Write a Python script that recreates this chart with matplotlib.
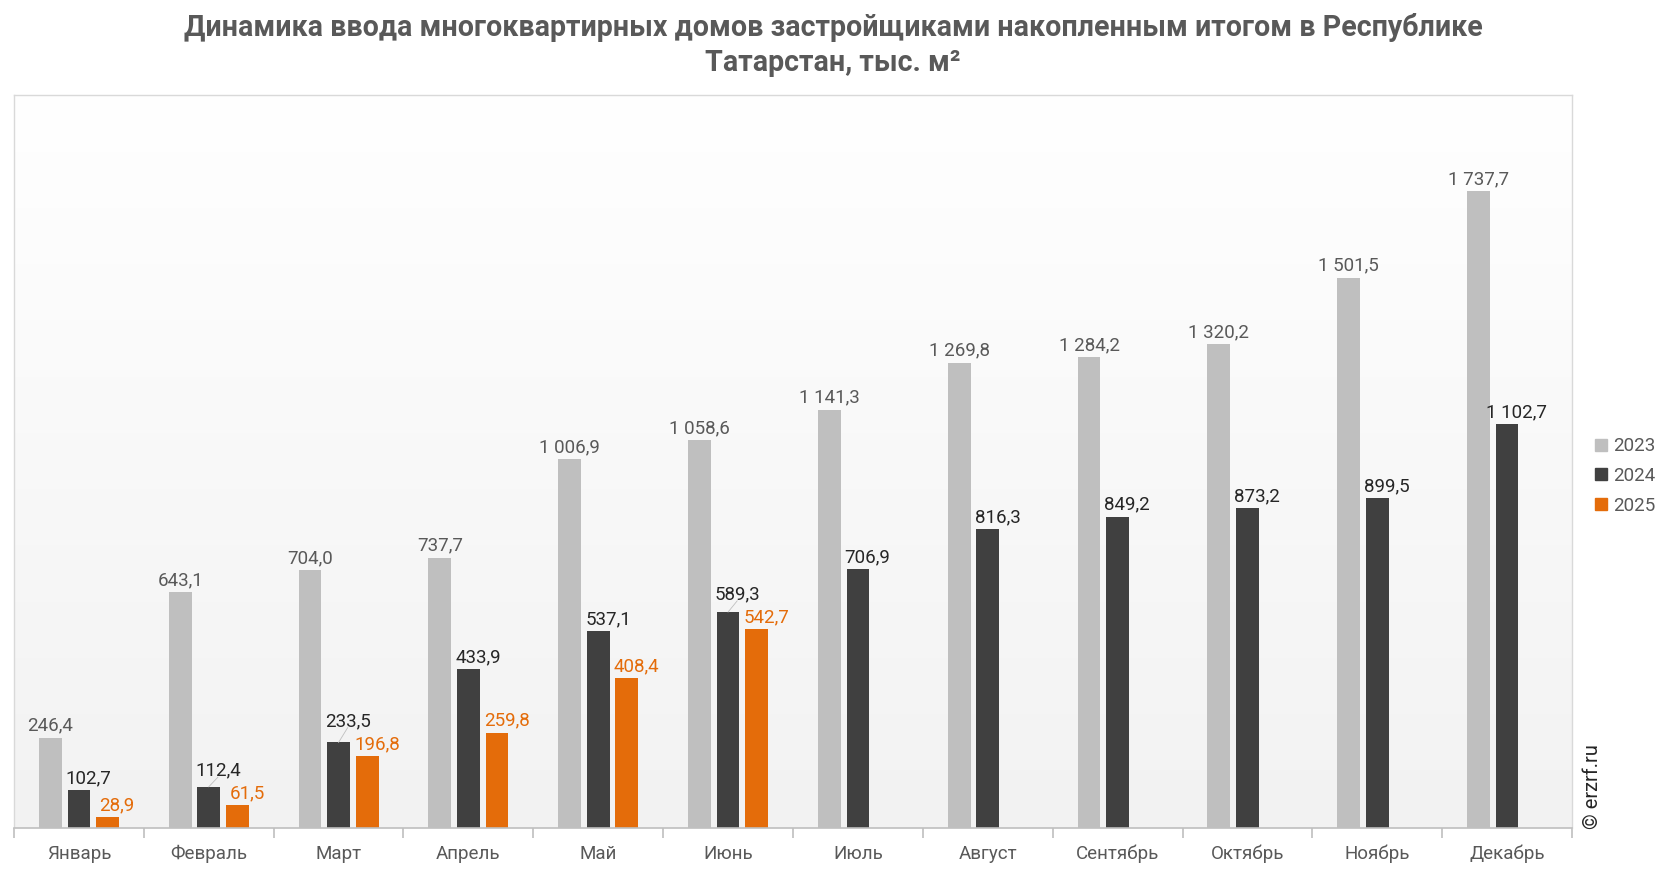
import numpy as np
import matplotlib
matplotlib.use("Agg")
import matplotlib.pyplot as plt
from matplotlib.patches import Patch

plt.rcParams["font.family"] = ["Roboto", "DejaVu Sans"]

months = ["Январь", "Февраль", "Март", "Апрель", "Май", "Июнь",
          "Июль", "Август", "Сентябрь", "Октябрь", "Ноябрь", "Декабрь"]
v2023 = [246.4, 643.1, 704.0, 737.7, 1006.9, 1058.6,
         1141.3, 1269.8, 1284.2, 1320.2, 1501.5, 1737.7]
v2024 = [102.7, 112.4, 233.5, 433.9, 537.1, 589.3,
         706.9, 816.3, 849.2, 873.2, 899.5, 1102.7]
v2025 = [28.9, 61.5, 196.8, 259.8, 408.4, 542.7]
years = ["2023", "2024", "2025"]

c23, c24, c25 = "#BFBFBF", "#404040", "#E46C0A"
t23, t24 = "#595959", "#262626"


def fmt(v):
    s = f"{v:,.1f}".replace(",", " ").replace(".", ",")
    return s


fig = plt.figure(figsize=(16.66, 8.72), dpi=100)
ax = fig.add_axes([14 / 1666, 44 / 872, (1572 - 14) / 1666, (828 - 95) / 872])

ymax = 2000
n = len(months)
x = np.arange(n)
ax.set_xlim(-0.5, n - 0.5)
ax.set_ylim(0, ymax)

# gradient background
grad = np.linspace(0, 1, 256).reshape(-1, 1)
cmap = matplotlib.colors.LinearSegmentedColormap.from_list("bg", ["#F2F2F2", "#FFFFFF"])
ax.imshow(grad, extent=[-0.5, n - 0.5, 0, ymax], origin="lower", aspect="auto",
          cmap=cmap, zorder=0)

w = 0.175
off = 0.22
ax.bar(x - off, v2023, w, color=c23, zorder=2)
ax.bar(x, v2024, w, color=c24, zorder=2)
ax.bar(x[:len(v2025)] + off, v2025, w, color=c25, zorder=2)

fs = 13.5
shift = 7  # points right for 2024/2025 labels
gap = 62   # minimum vertical separation between 2024 and 2025 labels (data units)
lift = 19

for i, v in enumerate(v2023):
    ax.text(x[i] - off, v + lift, fmt(v), ha="center", va="baseline",
            color=t23, fontsize=fs, zorder=3)

for i, v in enumerate(v2024):
    y = v + lift
    if i < len(v2025):
        y = max(y, v2025[i] + lift + gap)
    ax.annotate(fmt(v), (x[i], y), xytext=(shift, 0), textcoords="offset points",
                ha="center", va="baseline", color=t24, fontsize=fs, zorder=3)
    if y > v + lift + 1:
        ax.plot([x[i], x[i] + 0.07], [v, y - 4], color="#BFBFBF", lw=0.6, zorder=3)

for i, v in enumerate(v2025):
    ax.annotate(fmt(v), (x[i] + off, v + lift), xytext=(shift, 0),
                textcoords="offset points", ha="center", va="baseline",
                color=c25, fontsize=fs, zorder=3)

for s in ["top", "left", "right"]:
    ax.spines[s].set_color("#D9D9D9")
    ax.spines[s].set_linewidth(1.0)
ax.spines["bottom"].set_color("#BFBFBF")
ax.spines["bottom"].set_linewidth(1.2)
ax.set_yticks([])
ax.set_xticks(x)
ax.set_xticklabels(months, fontsize=fs, color=t23)
ax.tick_params(axis="x", which="major", length=0, pad=12)
ax.set_xticks(np.arange(-0.5, n, 1), minor=True)
ax.tick_params(axis="x", which="minor", length=7, color="#BFBFBF", width=1.2)

handles = [Patch(color=c23), Patch(color=c24), Patch(color=c25)]
fig.legend(handles, years, loc="upper left", bbox_to_anchor=(1586 / 1666, 1 - 428 / 872),
           frameon=False, fontsize=fs, labelcolor=t23, handlelength=0.6,
           handleheight=0.6, handletextpad=0.35, labelspacing=0.62, borderpad=0)

fig.text(1592 / 1666, 1 - 829 / 872, "© erzrf.ru", rotation=90, ha="center",
         va="bottom", fontsize=14.5, color="#262626")

fig.text(0.5, 1 - 13 / 872,
         "Динамика ввода многоквартирных домов застройщиками накопленным итогом в Республике\nТатарстан, тыс. м²",
         ha="center", va="top", fontsize=20.6, fontweight="bold", color="#595959",
         linespacing=1.32)

fig.savefig("out.png", dpi=100)
